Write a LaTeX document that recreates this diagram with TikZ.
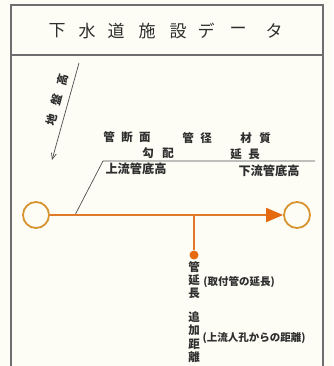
\documentclass[tikz,border=0pt]{standalone}
\usepackage{fontspec}
\setmainfont{Noto Sans CJK JP}
\usetikzlibrary{arrows.meta}
\definecolor{framec}{HTML}{6E6E6E}
\definecolor{ink}{HTML}{2E2E2E}
\definecolor{pipec}{HTML}{E07A2A}
\definecolor{ringc}{HTML}{D8942E}
\definecolor{tipc}{HTML}{E4690F}
\definecolor{paper}{HTML}{FDFDF6}
\begin{document}
\begin{tikzpicture}[x=1pt,y=-1pt,
  framel/.style={draw=framec,line width=1.3pt},
  thinl/.style={draw=ink!85,line width=0.7pt},
  lbl/.style={text=ink,inner sep=0pt,font=\fontsize{11.5}{12}\selectfont\bfseries},
  smalll/.style={text=ink,inner sep=0pt,font=\fontsize{10.5}{12}\selectfont\bfseries},
  ttl/.style={text=ink,inner sep=0pt,font=\fontsize{17}{18}\selectfont},
  mh/.style={circle,draw=ringc,line width=1.8pt,minimum size=26pt,inner sep=0pt},
  vert/.style={text=ink,inner sep=0pt,align=center,font=\fontsize{11.5}{13.3}\selectfont\bfseries},
  pipel/.style={draw=pipec,line width=2pt}]
\fill[paper] (0,0) rectangle (333,366);
\useasboundingbox (0,0) rectangle (333,366);
% frame
\draw[framel] (11,366) -- (11,5) -- (323,5) -- (323,366);
\draw[framel] (11,55) -- (323,55);
% title
\node[ttl] (t1) at (57,31) {下};
\node[ttl] (t2) at (87,31) {水};
\node[ttl] (t3) at (116,31) {道};
\node[ttl] (t4) at (147,31) {施};
\node[ttl] (t5) at (178,31) {設};
\node[ttl] (t6) at (206,31) {デ};
\node[ttl] (t7) at (238,31) {ー};
\node[ttl] (t8) at (274,31) {タ};
% ground height
\coordinate (gA) at (79,63);
\coordinate (gB) at (52,160);
\draw[thinl,-{Straight Barb[length=6pt,width=5pt]}] (gA) -- (gB);
\node[lbl,rotate=75] (gl) at (57,100) {地\hspace{9pt}盤\hspace{9pt}高};
% labels
\node[lbl] (l1) at (127,137) {管\hspace{6.5pt}断\hspace{6.5pt}面};
\node[lbl] (l2) at (197,138) {管\hspace{6.5pt}径};
\node[lbl] (l3) at (255.5,138) {材\hspace{7.5pt}質};
\node[lbl] (l4) at (158,153) {勾\hspace{8.5pt}配};
\node[lbl] (l5) at (245,154) {延\hspace{6.5pt}長};
\node[lbl,font=\fontsize{12.2}{13}\selectfont\bfseries] (l6) at (136,169) {上流管底高};
\node[lbl,font=\fontsize{12.2}{13}\selectfont\bfseries] (l7) at (269,171) {下流管底高};
% level line
\coordinate (s0) at (75,215);
\coordinate (s1) at (103,161);
\coordinate (s2) at (315,161);
\draw[thinl] (s0) -- (s1) -- (s2);
% pipe
\node[mh] (mh1) at (36,215) {};
\node[mh] (mh2) at (297,215) {};
\draw[pipel,-{Triangle[length=17pt,width=14pt,fill=tipc,color=tipc]}] (mh1) -- (mh2);
\coordinate (j) at (194,215);
\node[circle,fill=tipc,minimum size=9pt,inner sep=0pt] (dot) at (194,255) {};
\draw[draw=pipec,line width=1.6pt] (j) -- (dot.north);
% lateral texts
\node[vert] (v1) at (194,280) {管\\延\\長};
\node[smalll] (v1t) at (239,282) {(取付管の延長)};
\node[vert] (v2) at (194,337) {追\\加\\距\\離};
\node[smalll] (v2t) at (254,338) {(上流人孔からの距離)};
\end{tikzpicture}
\end{document}
